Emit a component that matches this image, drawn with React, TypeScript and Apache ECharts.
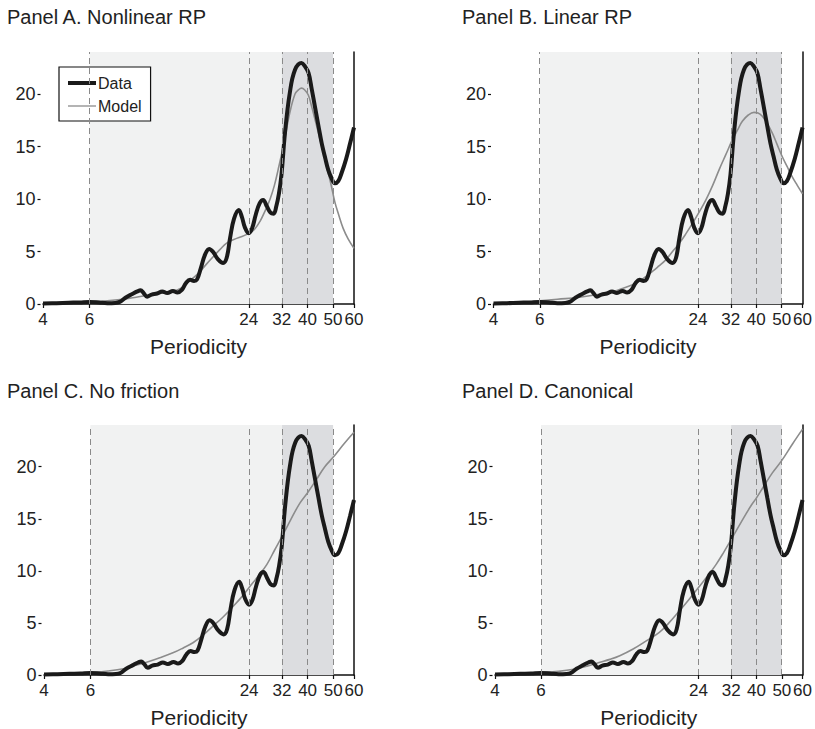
import React, { useEffect, useRef } from "react";
import * as echarts from "echarts";

// Spectrum of the data (periodicity in quarters -> spectral density)
const dataPeriods = [
  4.0, 4.5, 5.0, 5.5, 6.0, 6.5, 7.0, 7.5, 7.8, 8.2, 8.7, 9.1, 9.35, 9.6, 9.9, 10.3, 10.8, 11.3, 11.8,
  12.4, 12.9, 13.4, 13.9, 14.4, 14.9, 15.3, 15.8, 16.4, 17.0, 17.6, 18.3, 19.2, 19.8, 20.4, 21.1,
  22.0, 22.6, 23.2, 24.0, 24.7, 25.5, 26.4, 27.2, 28.1, 29.0, 29.8, 30.5, 31.2, 31.9, 32.9, 34.3,
  35.9, 38.0, 39.2, 40.4, 41.5, 42.7, 44.0, 45.3, 46.6, 47.9, 49.3, 50.8, 52.3, 53.9, 56.0, 58.0, 60.0,
];
const dataValues = [
  0.05, 0.08, 0.12, 0.15, 0.2, 0.15, 0.08, 0.1, 0.2, 0.6, 0.95, 1.2, 1.3, 1.05, 0.7, 0.9, 1.0, 1.2, 1.05,
  1.25, 1.1, 1.35, 2.0, 2.3, 2.2, 2.35, 3.4, 4.7, 5.25, 4.95, 4.3, 3.9, 4.4, 6.3, 8.1,
  8.95, 8.3, 7.3, 6.75, 7.2, 8.5, 9.6, 9.9, 9.3, 8.7, 8.6, 9.3, 10.5, 12.3, 16.3, 20.1,
  22.3, 22.95, 22.6, 22.0, 20.5, 18.8, 17.0, 15.3, 14.0, 12.8, 12.0, 11.5, 11.7, 12.5, 13.8, 15.3, 16.8,
];

// Model spectra
const nonlinearPeriods = [
  4, 5, 6, 7, 8, 9, 10, 11, 12.4, 13.3, 14, 15, 15.7, 16.6, 17.6, 18.7, 19.8, 21.6, 24, 25.2, 26.5,
  27.7, 28.9, 30, 31, 32.4, 34.3, 35.9, 37, 38, 39, 40.3, 41.5, 43, 45, 47, 49, 50.8, 52.5, 54.6, 57, 60,
];
const nonlinearValues = [
  0.05, 0.1, 0.2, 0.3, 0.45, 0.65, 0.85, 1.0, 1.2, 1.5, 2.0, 2.6, 3.1, 3.8, 4.5, 5.2, 5.8, 6.25, 6.7, 7.1, 7.9,
  8.9, 10.0, 11.3, 12.8, 15.0, 18.2, 20.0, 20.4, 20.56, 20.4, 19.9, 18.8, 17.3, 15.3, 13.4, 11.5, 9.7, 8.5, 7.2, 6.2, 5.3,
];

const linearPeriods = [
  4, 5, 6, 7, 8.5, 10, 11.4, 12.6, 14, 15, 16.1, 17, 18.1, 19.2, 20.4, 21.6, 22.9, 24.3, 25.7, 27.3,
  28.9, 30.6, 32.4, 34, 35.4, 37.3, 39.2, 40.6, 42.1, 44, 46, 48, 50.2, 52.4, 54.7, 57.3, 60,
];
const linearValues = [
  0.05, 0.15, 0.3, 0.45, 0.64, 0.9, 1.18, 1.55, 2.0, 2.5, 3.1, 3.6, 4.2, 5.0, 5.8, 6.7, 7.7, 8.8, 9.9, 11.3,
  12.8, 14.2, 15.6, 16.6, 17.4, 18.0, 18.25, 18.2, 17.9, 17.2, 16.3, 15.2, 14.05, 13.1, 12.15, 11.3, 10.5,
];

const noFrictionPeriods = [
  4, 5, 6, 7, 8, 9, 10, 11, 12.4, 13.5, 14.7, 16, 17.5, 19, 20.9, 22.5, 24, 26, 28, 30, 32, 34.5,
  37.4, 40, 43.3, 46.5, 50, 55, 60,
];
const noFrictionValues = [
  0.06, 0.12, 0.22, 0.38, 0.6, 0.95, 1.3, 1.65, 2.15, 2.6, 3.1, 3.8, 4.7, 5.5, 6.6, 7.5, 8.4, 9.5, 10.6, 12.0, 13.3, 14.9,
  16.5, 17.5, 18.8, 20.0, 20.9, 22.2, 23.3,
];

const canonicalPeriods = [
  4, 5, 6, 7, 8, 9, 10, 11, 12, 13.5, 15, 17, 18.5, 20.2, 22, 24, 26, 28, 30, 32, 35, 38, 40, 42.6,
  46, 50, 55, 60,
];
const canonicalValues = [
  0.05, 0.1, 0.22, 0.35, 0.55, 0.85, 1.2, 1.5, 1.85, 2.5, 3.2, 4.1, 5.0, 6.1, 7.2, 8.4, 9.5, 10.6, 11.8, 13.0, 14.7, 16.2, 17.0, 18.1,
  19.4, 20.6, 22.2, 23.6,
];

const panelTitles = ["Panel A. Nonlinear RP", "Panel B. Linear RP", "Panel C. No friction", "Panel D. Canonical"];
const xTickPeriods = [4, 6, 24, 32, 40, 50, 60];
const yTickValues = [0, 5, 10, 15, 20];
const dashedPeriods = [6, 24, 32, 40, 50];
const lightBand = [6, 32];
const darkBand = [32, 50];
const yMax = 24;

const modelSeries = [
  { periods: nonlinearPeriods, values: nonlinearValues },
  { periods: linearPeriods, values: linearValues },
  { periods: noFrictionPeriods, values: noFrictionValues },
  { periods: canonicalPeriods, values: canonicalValues },
];

const FONT = '"Liberation Sans", Arial, Helvetica, sans-serif';
const INK = "#222";
const DATA_COLOR = "#1a1a1a";
const MODEL_COLOR = "#8c8c8c";
const L = (p: number) => Math.log(p);
const pairs = (ps: number[], vs: number[]) => ps.map((p, i) => [L(p), vs[i]]);

const grids = [
  { left: 43, top: 52, width: 311, height: 252 },
  { left: 493.5, top: 52, width: 310.5, height: 252 },
  { left: 44, top: 425, width: 310, height: 251 },
  { left: 495, top: 425, width: 309, height: 251 },
];
const titlePos = [
  { left: 7, top: 7 },
  { left: 462, top: 7 },
  { left: 7, top: 381 },
  { left: 462, top: 381 },
];

function buildOption() {
  const title = panelTitles.map((t, i) => ({
    text: t,
    left: titlePos[i].left,
    top: titlePos[i].top,
    padding: 0,
    textStyle: { fontFamily: FONT, fontSize: 20, fontWeight: "normal", color: INK },
  }));

  const grid = grids.map((g) => ({ ...g, containLabel: false }));

  const xAxis = grids.map((_, i) => ({
    type: "value",
    gridIndex: i,
    min: L(4),
    max: L(60),
    splitLine: { show: false },
    axisLine: { show: true, lineStyle: { color: "#111", width: 1.5 } },
    axisTick: {
      show: true,
      length: 4,
      lineStyle: { color: "#111", width: 1.2 },
      customValues: xTickPeriods.map(L),
    },
    axisLabel: {
      customValues: xTickPeriods.map(L),
      formatter: (v: number) => String(Math.round(Math.exp(v))),
      fontFamily: FONT,
      fontSize: 17,
      color: INK,
      margin: 7,
    },
    name: "Periodicity",
    nameLocation: "middle",
    nameGap: 32,
    nameTextStyle: { fontFamily: FONT, fontSize: 21, color: INK },
  }));

  const yAxis: any[] = [];
  grids.forEach((_, i) => {
    // ticks and labels, set slightly apart from the axis line
    yAxis.push({
      type: "value",
      gridIndex: i,
      min: 0,
      max: yMax,
      offset: 2.5,
      splitLine: { show: false },
      axisLine: { show: false },
      axisTick: { show: true, length: 3, lineStyle: { color: "#111", width: 1.2 }, customValues: yTickValues },
      axisLabel: { customValues: yTickValues, fontFamily: FONT, fontSize: 18, color: INK, margin: 5 },
    });
    // the axis line itself
    yAxis.push({
      type: "value",
      gridIndex: i,
      min: 0,
      max: yMax,
      splitLine: { show: false },
      axisLine: { show: true, lineStyle: { color: "#111", width: 1.5 } },
      axisTick: { show: false },
      axisLabel: { show: false },
    });
  });

  const series: any[] = [];
  grids.forEach((_, i) => {
    series.push({
      type: "line",
      xAxisIndex: i,
      yAxisIndex: i * 2,
      data: [],
      silent: true,
      z: 1,
      markArea: {
        silent: true,
        label: { show: false },
        data: [
          [{ xAxis: L(lightBand[0]), itemStyle: { color: "#f1f2f2" } }, { xAxis: L(lightBand[1]) }],
          [{ xAxis: L(darkBand[0]), itemStyle: { color: "#dcdde0" } }, { xAxis: L(darkBand[1]) }],
        ],
      },
      markLine: {
        silent: true,
        symbol: "none",
        label: { show: false },
        lineStyle: { color: "#8a8a8a", width: 1, type: [6, 4] },
        data: dashedPeriods.map((p) => ({ xAxis: L(p) })),
      },
    });
    series.push({
      name: "Model",
      type: "line",
      xAxisIndex: i,
      yAxisIndex: i * 2,
      data: pairs(modelSeries[i].periods, modelSeries[i].values),
      smooth: 0.4,
      symbol: "none",
      z: 2,
      lineStyle: { color: MODEL_COLOR, width: 1.6 },
      itemStyle: { color: MODEL_COLOR },
    });
    series.push({
      name: "Data",
      type: "line",
      xAxisIndex: i,
      yAxisIndex: i * 2,
      data: pairs(dataPeriods, dataValues),
      smooth: 0.4,
      symbol: "none",
      z: 3,
      lineStyle: { color: DATA_COLOR, width: 4 },
      itemStyle: { color: DATA_COLOR },
    });
  });

  return {
    animation: false,
    backgroundColor: "#ffffff",
    title,
    grid,
    xAxis,
    yAxis,
    legend: {
      data: [
        { name: "Data", icon: "path://M0,0H28V4H0Z", itemStyle: { color: DATA_COLOR, borderWidth: 0 } },
        { name: "Model", icon: "path://M0,0H28V1.3H0Z", itemStyle: { color: MODEL_COLOR, borderWidth: 0 } },
      ],
      orient: "vertical",
      left: 59,
      top: 67,
      padding: [8, 9, 7, 9],
      itemWidth: 28,
      itemHeight: 14,
      itemGap: 7,
      selectedMode: false,
      borderColor: "#111",
      borderWidth: 1.2,
      borderRadius: 0,
      backgroundColor: "#ffffff",
      textStyle: { fontFamily: FONT, fontSize: 16, color: INK, padding: [0, 0, 0, -3] },
    },
    series,
  };
}

export default function App() {
  const ref = useRef<HTMLDivElement>(null);
  useEffect(() => {
    if (!ref.current) return;
    const chart = echarts.init(ref.current, null, { renderer: "svg" });
    chart.setOption(buildOption() as any);
    return () => chart.dispose();
  }, []);
  return (
    <div
      ref={ref}
      style={{ position: "fixed", left: 0, top: 0, width: 815, height: 729, background: "#fff" }}
    />
  );
}
